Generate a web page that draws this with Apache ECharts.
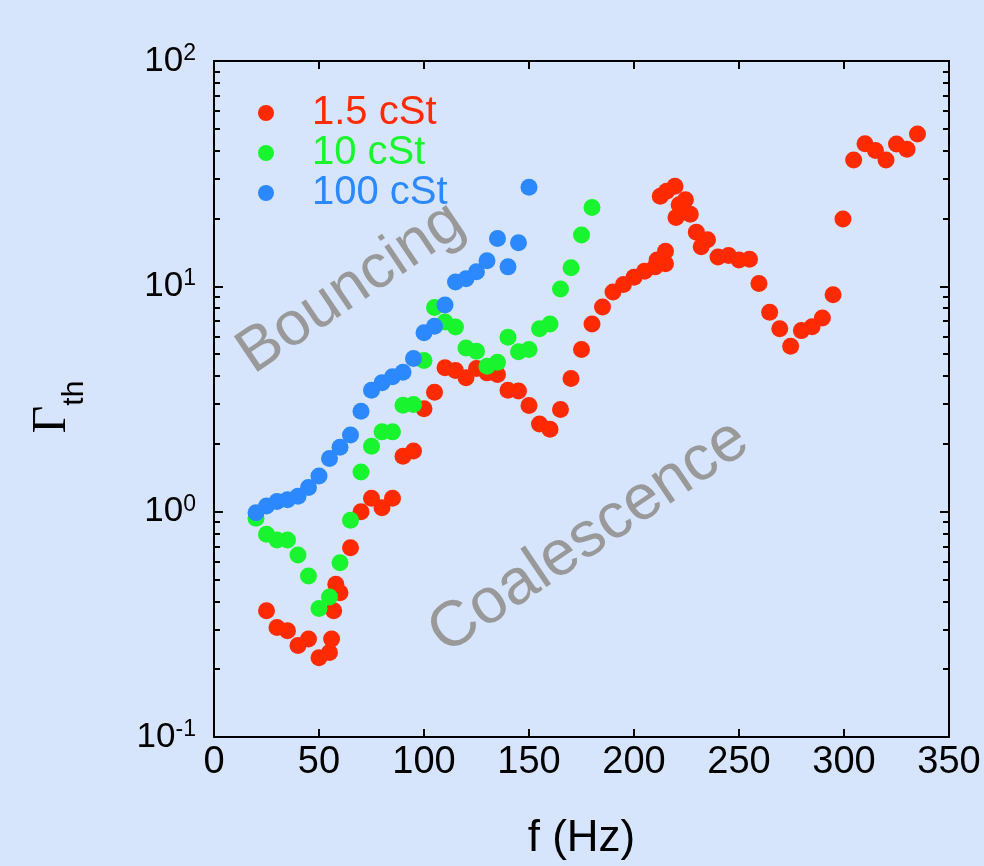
<!DOCTYPE html>
<html>
<head>
<meta charset="utf-8">
<script src="https://cdn.jsdelivr.net/npm/echarts@6/dist/echarts.min.js"></script>
<style>
  html, body { margin: 0; padding: 0; background: #d7e5fc; }
  #chart { width: 984px; height: 866px; }
</style>
</head>
<body>
<div id="chart"></div>
<script>
// 1.5 cSt
var f15 = [25, 30, 35, 40, 45, 50, 55, 56, 57, 58, 60, 65, 70, 75, 80, 85, 90, 95, 100, 105,
           110, 115, 120, 125, 130, 135, 140, 145, 150, 155, 160, 165, 170, 175, 180, 185, 190, 195, 200, 205,
           210, 211, 215, 215, 212.5, 215.5, 219.5, 220, 221.5, 224.5, 226.8, 229.7, 232, 235, 240, 245, 250, 255, 259.5, 264.6,
           269.4, 274.6, 279.7, 284.8, 289.7, 294.8, 299.5, 304.6, 310, 315, 320, 325, 330, 335];
var g15 = [0.363, 0.306, 0.296, 0.255, 0.272, 0.225, 0.237, 0.272, 0.363, 0.476, 0.437, 0.692, 1.0, 1.146, 1.04, 1.146, 1.76, 1.86, 2.86, 3.39,
           4.35, 4.23, 3.93, 4.32, 4.13, 4.06, 3.46, 3.43, 2.96, 2.45, 2.32, 2.84, 3.9, 5.24, 6.81, 8.1, 9.44, 10.2, 10.97, 11.66,
           12.2, 13.1, 12.6, 14.3, 25.1, 26.4, 27.8, 20.2, 23.0, 24.2, 20.9, 17.4, 15.0, 16.1, 13.5, 13.7, 13.1, 13.2, 10.3, 7.67,
           6.49, 5.42, 6.36, 6.61, 7.24, 9.18, 19.9, 36.4, 42.9, 40.1, 36.4, 42.8, 40.6, 47.4];
// 10 cSt
var f10 = [20, 25, 30, 35, 40, 45, 50, 55, 60, 65, 70, 75, 80, 85, 90, 95, 100, 105, 110, 115,
           120, 125, 130, 135, 140, 145, 150, 155, 160, 165, 170, 175, 180];
var g10 = [0.934, 0.793, 0.749, 0.749, 0.642, 0.518, 0.372, 0.418, 0.594, 0.915, 1.5, 1.95, 2.26, 2.26, 2.97, 2.99, 4.69, 8.05, 6.95, 6.6,
           5.33, 5.15, 4.42, 4.6, 5.95, 5.12, 5.24, 6.49, 6.81, 9.73, 12.1, 16.9, 22.4];
// 100 cSt
var f100 = [20, 25, 30, 35, 40, 45, 50, 55, 60, 65, 70, 75, 80, 85, 90, 95, 100, 105, 110, 115,
            120, 125, 130, 135, 140, 145, 150];
var g100 = [0.99, 1.06, 1.11, 1.13, 1.17, 1.28, 1.44, 1.72, 1.93, 2.19, 2.79, 3.46, 3.73, 3.97, 4.16, 4.78, 6.23, 6.65, 8.26, 10.46,
            10.8, 11.6, 13.0, 16.3, 12.2, 15.6, 27.5];

var seriesNames = ['1.5 cSt', '10 cSt', '100 cSt'];
var seriesColors = ['#ff2a00', '#18f52e', '#2b88fe'];
var majorTicks = [0.1, 1, 10, 100];
var minorTicks = [0.2, 0.3, 0.4, 0.5, 0.6, 0.7, 0.8, 0.9,
                  2, 3, 4, 5, 6, 7, 8, 9,
                  20, 30, 40, 50, 60, 70, 80, 90];

function pairs(xs, ys) {
  return xs.map(function(x, i) { return [x, ys[i]]; });
}

var font = '"Liberation Sans", Arial, Helvetica, sans-serif';
var axisLine = { show: true, lineStyle: { color: '#000', width: 2 } };

function yAxisDef(position, ticks, len, withLabels) {
  return {
    type: 'log', logBase: 10, min: 0.1, max: 100, position: position,
    axisLine: axisLine,
    splitLine: { show: false },
    axisTick: { show: true, inside: true, length: len, customValues: ticks, lineStyle: { color: '#000', width: 2 } },
    axisLabel: withLabels ? {
      show: true, customValues: majorTicks, margin: 18,
      formatter: function(v) {
        var e = Math.round(Math.log10(v));
        return '{b|10}{s|' + e + '}';
      },
      rich: {
        b: { fontSize: 35, fontFamily: font, color: '#000', lineHeight: 38 },
        s: { fontSize: 23, fontFamily: font, color: '#000', verticalAlign: 'top', lineHeight: 24 }
      }
    } : { show: false }
  };
}

var chart = echarts.init(document.getElementById('chart'), null, { renderer: 'canvas' });
var yLeft = yAxisDef('left', majorTicks, 9, true);
yLeft.name = '{g|Γ}{t|th}';
yLeft.nameLocation = 'middle';
yLeft.nameRotate = 90;
yLeft.nameGap = 124;
yLeft.nameTextStyle = {
  padding: [0, 16, 0, 0],
  rich: {
    g: { fontSize: 48, fontFamily: '"Liberation Serif", "Times New Roman", serif', color: '#000', lineHeight: 76 },
    t: { fontSize: 30, fontFamily: font, color: '#000', verticalAlign: 'bottom', lineHeight: 30 }
  }
};

chart.setOption({
  animation: false,
  backgroundColor: '#d7e5fc',
  grid: { left: 214, right: 35, top: 61, bottom: 128, containLabel: false },
  legend: {
    orient: 'vertical',
    left: 253, top: 88,
    icon: 'circle',
    itemWidth: 82, itemHeight: 16, itemGap: 0,
    selectedMode: false,
    textStyle: { fontSize: 40, fontFamily: font, lineHeight: 38.5 },
    data: seriesNames.map(function(n, i) { return { name: n, textStyle: { color: seriesColors[i] } }; })
  },
  xAxis: [{
    type: 'value', min: 0, max: 350, interval: 50, position: 'bottom',
    name: 'f (Hz)', nameLocation: 'middle', nameGap: 80,
    nameTextStyle: { fontSize: 44, fontFamily: font, color: '#000' },
    axisLine: axisLine,
    splitLine: { show: false },
    axisTick: { inside: true, length: 8, lineStyle: { color: '#000', width: 2 } },
    axisLabel: { fontSize: 38, fontFamily: font, color: '#000', margin: 7 }
  }, {
    type: 'value', min: 0, max: 350, interval: 50, position: 'top',
    axisLine: axisLine,
    splitLine: { show: false },
    axisTick: { inside: true, length: 8, lineStyle: { color: '#000', width: 2 } },
    axisLabel: { show: false }
  }],
  yAxis: [
    yLeft,
    yAxisDef('left', minorTicks, 6, false),
    yAxisDef('right', majorTicks, 9, false),
    yAxisDef('right', minorTicks, 6, false)
  ],
  graphic: [{
    type: 'text', x: 351, y: 288, rotation: 34 * Math.PI / 180, silent: true,
    style: { text: 'Bouncing', fontSize: 62, fontFamily: font, fill: '#999999', align: 'center', verticalAlign: 'middle' }
  }, {
    type: 'text', x: 589, y: 537, rotation: 34 * Math.PI / 180, silent: true,
    style: { text: 'Coalescence', fontSize: 64, fontFamily: font, fill: '#999999', align: 'center', verticalAlign: 'middle' }
  }],
  series: [
    { name: seriesNames[0], type: 'scatter', symbol: 'circle', symbolSize: 17, data: pairs(f15, g15), itemStyle: { color: seriesColors[0], opacity: 1 } },
    { name: seriesNames[1], type: 'scatter', symbol: 'circle', symbolSize: 17, data: pairs(f10, g10), itemStyle: { color: seriesColors[1], opacity: 1 } },
    { name: seriesNames[2], type: 'scatter', symbol: 'circle', symbolSize: 17, data: pairs(f100, g100), itemStyle: { color: seriesColors[2], opacity: 1 } }
  ]
});
</script>
</body>
</html>
